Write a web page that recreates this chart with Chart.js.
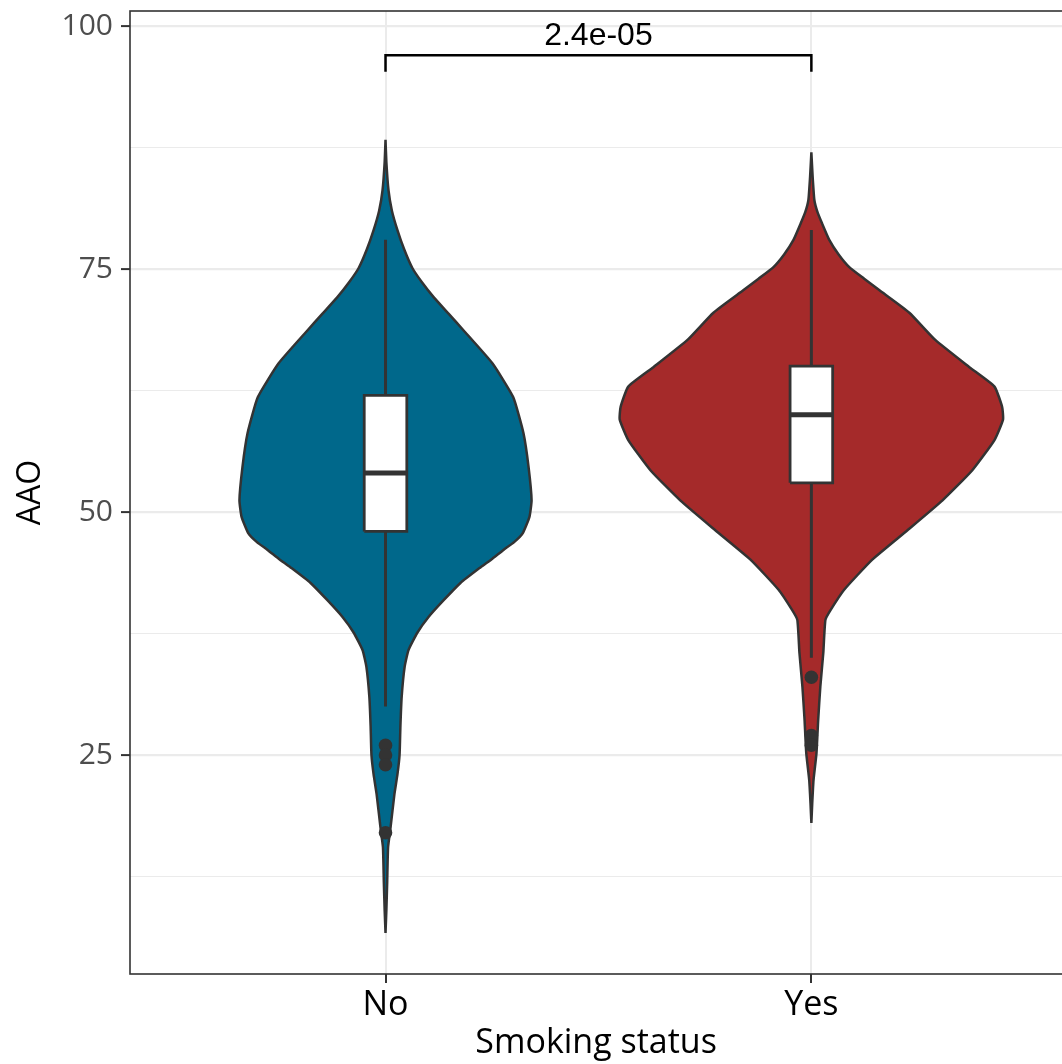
<!DOCTYPE html>
<html>
<head>
<meta charset="utf-8">
<script src="https://cdn.jsdelivr.net/npm/chart.js@4"></script>
<style>
html, body { margin: 0; padding: 0; overflow: hidden; background: #fff; }
</style>
</head>
<body>
<canvas id="chart" width="1069" height="1064"></canvas>
<script>
// categories and axis ticks
const categories = ['No', 'Yes'];
const yMajorTicks = [25, 50, 75, 100];
const yMinorTicks = [12.5, 37.5, 62.5, 87.5];

// violin outlines: AAO levels and half-widths (category units)
const noLevels = [6.7, 9, 12, 15.5, 17.6, 21, 23, 25, 28, 31, 34.1, 35.8, 37.6, 39.2, 40.9, 42.7, 44.3, 45.2, 46.1, 46.9, 47.8, 49.5, 51.2, 54.6, 58.1, 61.8, 65.3, 68.7, 70.4, 72.1, 73.6, 75.1, 77, 79, 81, 83.1, 86, 88.3];
const noWidths = [0, 0.002, 0.004, 0.006, 0.012, 0.021, 0.028, 0.033, 0.035, 0.038, 0.045, 0.054, 0.075, 0.101, 0.136, 0.176, 0.223, 0.251, 0.277, 0.302, 0.322, 0.338, 0.343, 0.336, 0.324, 0.300, 0.251, 0.183, 0.148, 0.113, 0.086, 0.063, 0.044, 0.028, 0.015, 0.007, 0.002, 0];
const yesLevels = [18, 20, 22.4, 25.2, 28.6, 32, 35.5, 38.9, 39.9, 42, 45.1, 48.1, 51.2, 54.3, 57.4, 59.5, 60.8, 62.9, 64.9, 67.7, 70.5, 72.8, 74, 75.2, 76.5, 78, 79.7, 80.9, 82.1, 84.5, 87];
const yesWidths = [0, 0.002, 0.005, 0.012, 0.016, 0.021, 0.028, 0.033, 0.045, 0.077, 0.143, 0.225, 0.308, 0.378, 0.430, 0.450, 0.448, 0.430, 0.371, 0.291, 0.230, 0.160, 0.124, 0.089, 0.064, 0.042, 0.025, 0.014, 0.007, 0.003, 0];

// boxplot stats per category
const q1 = [48, 53];
const medians = [54, 60];
const q3 = [62, 65];
const whiskerLow = [30, 35];
const whiskerHigh = [78, 79];
const outliers = [[26, 25, 24, 17], [33, 27, 26]];

// comparison bracket
const pLabel = '2.4e-05';
const bracketTop = 97;
const bracketFoot = 95.3;

const fills = ['#00688B', '#A52A2A'];
const dark = '#333333';
const boxHalf = 0.05;
const medHalf = 0.05;

const datasets = [];

function violinPoints(pos, levels, widths) {
    const left = levels.map((v, i) => ({ x: pos - widths[i], y: v }));
    const right = levels.map((v, i) => ({ x: pos + widths[i], y: v })).reverse();
    return left.concat(right);
}

const violinData = [[noLevels, noWidths], [yesLevels, yesWidths]];

categories.forEach((cat, i) => {
    const pos = i + 1;
    // violin
    datasets.push({
        data: violinPoints(pos, violinData[i][0], violinData[i][1]),
        borderColor: dark, borderWidth: 2.5, backgroundColor: fills[i],
        fill: 'shape', tension: 0.15, pointRadius: 0, order: 10
    });
    // whiskers
    datasets.push({
        data: [{ x: pos, y: q3[i] }, { x: pos, y: whiskerHigh[i] }],
        borderColor: dark, borderWidth: 3, pointRadius: 0, fill: false, order: 8
    });
    datasets.push({
        data: [{ x: pos, y: q1[i] }, { x: pos, y: whiskerLow[i] }],
        borderColor: dark, borderWidth: 3, pointRadius: 0, fill: false, order: 8
    });
    // box
    datasets.push({
        data: [
            { x: pos - boxHalf, y: q1[i] }, { x: pos - boxHalf, y: q3[i] },
            { x: pos + boxHalf, y: q3[i] }, { x: pos + boxHalf, y: q1[i] },
            { x: pos - boxHalf, y: q1[i] }
        ],
        borderColor: dark, borderWidth: 2.8, backgroundColor: '#ffffff',
        fill: 'shape', pointRadius: 0, order: 6
    });
    // median
    datasets.push({
        data: [{ x: pos - medHalf, y: medians[i] }, { x: pos + medHalf, y: medians[i] }],
        borderColor: dark, borderWidth: 5, pointRadius: 0, fill: false, order: 4
    });
    // outliers
    datasets.push({
        data: outliers[i].map(v => ({ x: pos, y: v })),
        showLine: false, pointRadius: 6.8, pointBackgroundColor: dark,
        pointBorderWidth: 0, order: 2
    });
});

// bracket
datasets.push({
    data: [{ x: 1, y: bracketFoot }, { x: 1, y: bracketTop }, { x: 2, y: bracketTop }, { x: 2, y: bracketFoot }],
    borderColor: '#000', borderWidth: 2.5, pointRadius: 0, fill: false, order: 1
});

// panel border: top, left, bottom (right side falls off the page)
const panelBorder = {
    id: 'panelBorder',
    afterDraw(chart) {
        const a = chart.chartArea;
        const ctx = chart.ctx;
        ctx.save();
        ctx.strokeStyle = dark;
        ctx.lineWidth = 1.6;
        ctx.strokeRect(a.left, a.top, a.right - a.left + 20, a.bottom - a.top);
        ctx.restore();
    }
};

const pText = {
    id: 'pText',
    afterDatasetsDraw(chart) {
        const ctx = chart.ctx;
        const x = chart.scales.x.getPixelForValue(1.5);
        const y = chart.scales.y.getPixelForValue(bracketTop);
        ctx.save();
        ctx.fillStyle = '#000';
        ctx.font = '32px "Liberation Sans", Arial, sans-serif';
        ctx.textAlign = 'center';
        ctx.textBaseline = 'alphabetic';
        ctx.fillText(pLabel, x, y - 10);
        ctx.restore();
    }
};

const isMajor = v => yMajorTicks.includes(v);

new Chart(document.getElementById('chart'), {
    type: 'line',
    data: { datasets: datasets },
    plugins: [panelBorder, pText],
    options: {
        responsive: false,
        animation: false,
        events: [],
        layout: { padding: { top: 11, right: 0, left: 0, bottom: 0 } },
        plugins: { legend: { display: false }, tooltip: { enabled: false } },
        scales: {
            x: {
                type: 'linear', min: 0.4, max: 2.589,
                afterBuildTicks: s => { s.ticks = categories.map((c, i) => ({ value: i + 1 })); },
                afterFit: s => { s.height = 90; s.paddingLeft = 0; s.paddingRight = 0; },
                ticks: {
                    callback: (v, i) => categories[i],
                    color: '#000', font: { family: 'Open Sans', size: 34 },
                    padding: 2, autoSkip: false, maxRotation: 0
                },
                grid: { color: '#ebebeb', lineWidth: 2, tickLength: 9, tickColor: dark, tickWidth: 2 },
                border: { display: false },
                title: {
                    display: true, text: 'Smoking status', color: '#000',
                    font: { family: 'Open Sans', size: 34 }, padding: { top: 0, bottom: 0 }
                }
            },
            y: {
                type: 'linear', min: 2.47, max: 101.54,
                afterBuildTicks: s => {
                    s.ticks = yMinorTicks.concat(yMajorTicks).sort((a, b) => a - b).map(v => ({ value: v }));
                },
                afterFit: s => { s.width = 130; s.paddingTop = 0; s.paddingBottom = 0; },
                ticks: {
                    callback: v => isMajor(v) ? String(v) : '',
                    color: '#4d4d4d', font: { family: 'Open Sans', size: 30 }, padding: 8
                },
                grid: {
                    color: '#ebebeb',
                    lineWidth: c => isMajor(c.tick.value) ? 2.2 : 1.1,
                    tickLength: 9,
                    tickColor: c => isMajor(c.tick.value) ? dark : 'rgba(0,0,0,0)',
                    tickWidth: 2
                },
                border: { display: false },
                title: {
                    display: true, text: 'AAO', color: '#000',
                    font: { family: 'Open Sans', size: 32 }, padding: { top: 12, bottom: 0 }
                }
            }
        }
    }
});
</script>
</body>
</html>
